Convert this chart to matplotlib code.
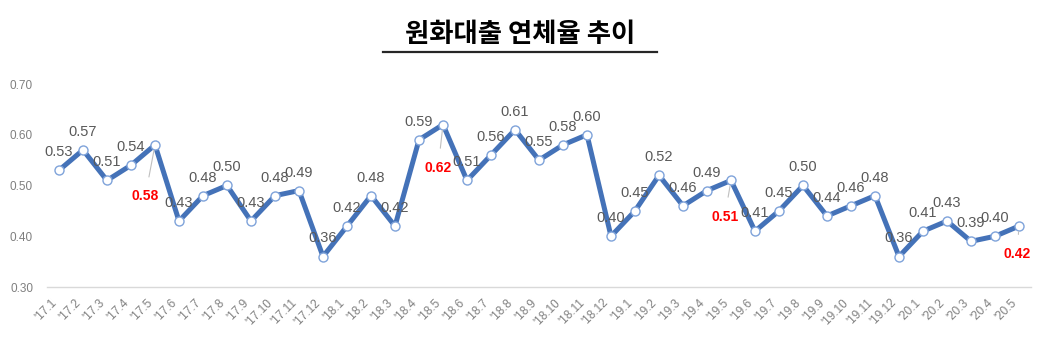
import matplotlib
matplotlib.use("Agg")
import matplotlib.pyplot as plt
from matplotlib.lines import Line2D

# monthly overdue rate of won-denominated loans (%)
months = [
    "'17.1", "'17.2", "'17.3", "'17.4", "'17.5", "'17.6", "'17.7", "'17.8", "'17.9", "'17.10", "'17.11", "'17.12",
    "'18.1", "'18.2", "'18.3", "'18.4", "'18.5", "'18.6", "'18.7", "'18.8", "'18.9", "'18.10", "'18.11", "'18.12",
    "'19.1", "'19.2", "'19.3", "'19.4", "'19.5", "'19.6", "'19.7", "'19.8", "'19.9", "'19.10", "'19.11", "'19.12",
    "'20.1", "'20.2", "'20.3", "'20.4", "'20.5",
]
rates = [
    0.53, 0.57, 0.51, 0.54, 0.58, 0.43, 0.48, 0.50, 0.43, 0.48, 0.49, 0.36,
    0.42, 0.48, 0.42, 0.59, 0.62, 0.51, 0.56, 0.61, 0.55, 0.58, 0.60, 0.40,
    0.45, 0.52, 0.46, 0.49, 0.51, 0.41, 0.45, 0.50, 0.44, 0.46, 0.48, 0.36,
    0.41, 0.43, 0.39, 0.40, 0.42,
]
highlight_months = ["'17.5", "'18.5", "'19.5", "'20.5"]
title = "원화대출 연체율 추이"

# label offsets (points) for the highlighted (red) labels
red_offsets = {"'17.5": (-7, -37), "'18.5": (-3.5, -31), "'19.5": (-4.5, -26), "'20.5": (-1.5, -20)}

num_font = ["Liberation Sans Narrow", "Liberation Sans", "DejaVu Sans"]
plt.rcParams["font.family"] = num_font

fig = plt.figure(figsize=(10.47, 3.37), dpi=100)
ax = fig.add_axes([47 / 1047, 50 / 337, (1031 - 47) / 1047, (287 - 84) / 337])

x = list(range(len(months)))
ax.plot(x, rates, color="#4472B8", lw=3.6, solid_joinstyle="miter", zorder=2,
        marker="o", markersize=6.5, markerfacecolor="white",
        markeredgecolor="#7FA3DA", markeredgewidth=1.0)

for i, (m, v) in enumerate(zip(months, rates)):
    if m in highlight_months:
        dx, dy = red_offsets[m]
        ax.annotate(f"{v:.2f}", (i, v), xytext=(dx, dy), textcoords="offset points",
                    ha="center", va="center", color="#FF0000", fontsize=10,
                    fontweight="bold", zorder=3,
                    arrowprops=dict(arrowstyle="-", color="#BFBFBF", lw=0.8,
                                    shrinkA=7, shrinkB=4))
    else:
        ax.annotate(f"{v:.2f}", (i, v), xytext=(0, 13), textcoords="offset points",
                    ha="center", va="center", color="#595959", fontsize=10.5, zorder=3)

ax.set_xlim(-0.5, len(months) - 0.5)
ax.set_ylim(0.30, 0.70)
ax.set_yticks([0.30, 0.40, 0.50, 0.60, 0.70])
ax.set_yticklabels([f"{t:.2f}" for t in [0.30, 0.40, 0.50, 0.60, 0.70]])
ax.set_xticks(x)
ax.set_xticklabels(months, rotation=45, ha="right", va="top")
ax.tick_params(axis="y", length=0, pad=10, labelsize=8.5, labelcolor="#7F7F7F")
ax.tick_params(axis="x", length=0, pad=7, labelsize=8.5, labelcolor="#7F7F7F")

for side in ["top", "right", "left"]:
    ax.spines[side].set_visible(False)
ax.spines["bottom"].set_color("#D9D9D9")
ax.spines["bottom"].set_linewidth(1.0)

# title with underline
fig.text(520 / 1047, 1 - 34 / 337, title, ha="center", va="center",
         fontsize=19, fontweight="bold", color="black",
         family=["Noto Sans CJK KR", "DejaVu Sans"])
fig.add_artist(Line2D([383 / 1047, 657 / 1047], [1 - 52 / 337, 1 - 52 / 337],
                      color="#262626", lw=1.6, transform=fig.transFigure))

fig.savefig("out.png", dpi=100)
